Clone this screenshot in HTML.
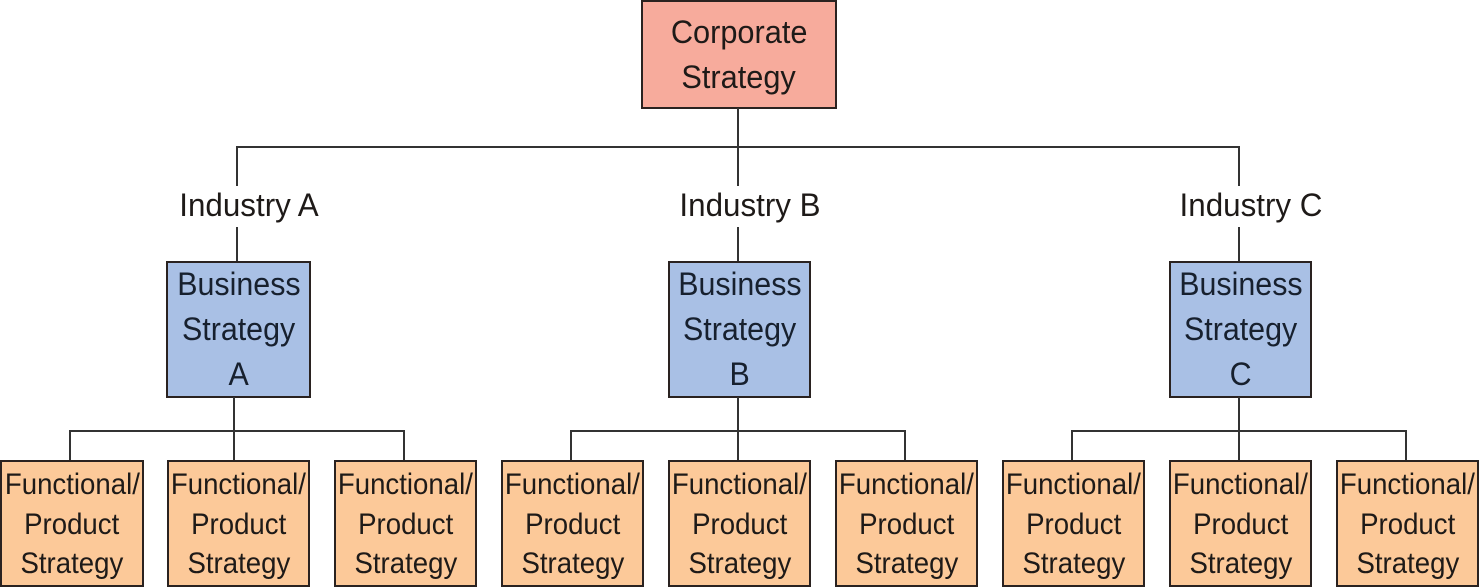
<!DOCTYPE html>
<html><head><meta charset="utf-8"><style>
body{margin:0;width:1479px;height:587px;background:#fff;position:relative;overflow:hidden;font-family:"Liberation Sans",sans-serif;color:#1e1a18}
.b{position:absolute;box-sizing:border-box;border:2px solid #2a2220;display:flex;flex-direction:column;align-items:center;justify-content:center;text-align:center}
.b span{display:block;transform:scaleX(0.92);white-space:nowrap}
.c{background:#f7ab9c;font-size:32px;line-height:45px}
.c span{transform:scaleX(0.96)}
.bs{background:#a9c0e5;font-size:32px;line-height:45px;color:#17202e}
.bs span{transform:scaleX(0.95)}
.f{background:#fcc999;font-size:30px;line-height:39.5px;padding-top:2px}
.l{position:absolute;background:#333}
.t{position:absolute;font-size:32px;width:200px;text-align:center;transform:scaleX(0.98);line-height:36px}
</style></head><body>
<div class="b c" style="left:641px;top:0;width:196px;height:109px"><span>Corporate</span><span>Strategy</span></div>
<div class="l" style="left:737px;top:108px;width:2px;height:40px"></div>
<div class="l" style="left:236px;top:146px;width:1004px;height:2px"></div>

<div class="l" style="left:236px;top:146px;width:2px;height:40px"></div>
<div class="l" style="left:737px;top:146px;width:2px;height:40px"></div>
<div class="l" style="left:1238px;top:146px;width:2px;height:40px"></div>
<div class="t" style="left:149px;top:187px">Industry A</div>
<div class="t" style="left:650px;top:187px">Industry B</div>
<div class="t" style="left:1151px;top:187px">Industry C</div>
<div class="l" style="left:236px;top:227px;width:2px;height:35px"></div>
<div class="l" style="left:737px;top:227px;width:2px;height:35px"></div>
<div class="l" style="left:1238px;top:227px;width:2px;height:35px"></div>

<div class="b bs" style="left:166px;top:261px;width:145px;height:137px"><span>Business</span><span>Strategy</span><span>A</span></div>
<div class="b bs" style="left:668px;top:261px;width:143px;height:137px"><span>Business</span><span>Strategy</span><span>B</span></div>
<div class="b bs" style="left:1169px;top:261px;width:143px;height:137px"><span>Business</span><span>Strategy</span><span>C</span></div>

<div class="l" style="left:233px;top:397px;width:2px;height:64px"></div>
<div class="l" style="left:737px;top:397px;width:2px;height:64px"></div>
<div class="l" style="left:1238px;top:397px;width:2px;height:64px"></div>
<div class="l" style="left:69px;top:430px;width:336px;height:2px"></div>
<div class="l" style="left:570px;top:430px;width:336px;height:2px"></div>
<div class="l" style="left:1071px;top:430px;width:336px;height:2px"></div>
<div class="l" style="left:69px;top:430px;width:2px;height:31px"></div>
<div class="l" style="left:403px;top:430px;width:2px;height:31px"></div>
<div class="l" style="left:570px;top:430px;width:2px;height:31px"></div>
<div class="l" style="left:904px;top:430px;width:2px;height:31px"></div>
<div class="l" style="left:1071px;top:430px;width:2px;height:31px"></div>
<div class="l" style="left:1405px;top:430px;width:2px;height:31px"></div>

<div class="b f" style="left:0;top:460px;width:144px;height:127px"><span>Functional/</span><span>Product</span><span>Strategy</span></div>
<div class="b f" style="left:167px;top:460px;width:143px;height:127px"><span>Functional/</span><span>Product</span><span>Strategy</span></div>
<div class="b f" style="left:334px;top:460px;width:143px;height:127px"><span>Functional/</span><span>Product</span><span>Strategy</span></div>
<div class="b f" style="left:501px;top:460px;width:143px;height:127px"><span>Functional/</span><span>Product</span><span>Strategy</span></div>
<div class="b f" style="left:668px;top:460px;width:143px;height:127px"><span>Functional/</span><span>Product</span><span>Strategy</span></div>
<div class="b f" style="left:835px;top:460px;width:143px;height:127px"><span>Functional/</span><span>Product</span><span>Strategy</span></div>
<div class="b f" style="left:1002px;top:460px;width:143px;height:127px"><span>Functional/</span><span>Product</span><span>Strategy</span></div>
<div class="b f" style="left:1169px;top:460px;width:143px;height:127px"><span>Functional/</span><span>Product</span><span>Strategy</span></div>
<div class="b f" style="left:1336px;top:460px;width:143px;height:127px"><span>Functional/</span><span>Product</span><span>Strategy</span></div>
</body></html>
